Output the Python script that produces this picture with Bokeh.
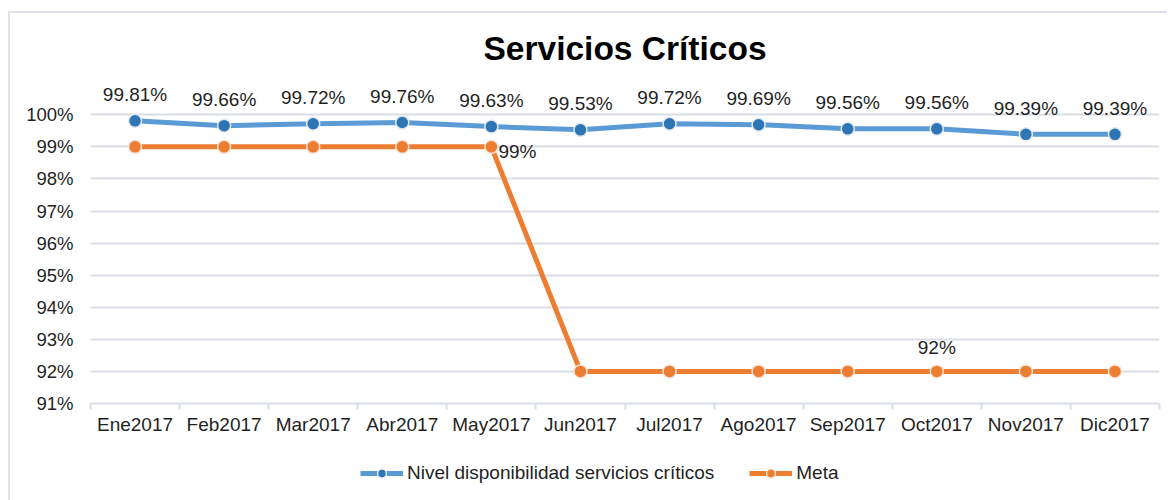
from bokeh.plotting import figure
from bokeh.layouts import column
from bokeh.models import (ColumnDataSource, Range1d, FixedTicker, LabelSet, Label,
                          Legend, LegendItem, CustomJSTickFormatter)
from bokeh.core.properties import value
from bokeh.embed import file_html
from bokeh.resources import INLINE

months = ["Ene2017", "Feb2017", "Mar2017", "Abr2017", "May2017", "Jun2017",
          "Jul2017", "Ago2017", "Sep2017", "Oct2017", "Nov2017", "Dic2017"]
nivel = [99.81, 99.66, 99.72, 99.76, 99.63, 99.53, 99.72, 99.69, 99.56, 99.56, 99.39, 99.39]
meta = [99, 99, 99, 99, 99, 92, 92, 92, 92, 92, 92, 92]
meta_labeled = [4, 9]  # months whose Meta value is labelled
y_ticks = [91, 92, 93, 94, 95, 96, 97, 98, 99, 100]
title_text = "Servicios Críticos"
series_names = ["Nivel disponibilidad servicios críticos", "Meta"]

FONT = "Liberation Sans"
TXT = "#1f1f1f"
GRID = "#d9dee6"
EDGE = "2px solid #dde2e8"
BLUE_LINE = "#5b9bd5"
BLUE_MARK = "#2e75b6"
ORANGE = "#ed7d31"

xs = [i + 0.5 for i in range(len(months))]
src = ColumnDataSource(dict(
    x=xs, nivel=nivel, meta=meta,
    nivel_lbl=[f"{v:.2f}%" for v in nivel],
))

p = figure(frame_width=1067, frame_height=383, output_backend="svg", toolbar_location=None,
           x_range=Range1d(0, len(months)), y_range=Range1d(min(y_ticks), 103.0),
           min_border_left=80, min_border_right=10, min_border_top=5, min_border_bottom=45)
p.margin = (11, 0, 0, 8)
p.styles = {"border-top": EDGE, "border-left": EDGE}
p.outline_line_color = None
p.background_fill_color = "white"
p.border_fill_color = "white"

# axes
p.xaxis.ticker = FixedTicker(ticks=xs, minor_ticks=list(range(len(months) + 1)))
p.xaxis.major_label_overrides = {x: m for x, m in zip(xs, months)}
p.xaxis.major_tick_line_color = None
p.xaxis.major_tick_out = 0
p.xaxis.major_tick_in = 0
p.xaxis.minor_tick_line_color = GRID
p.xaxis.minor_tick_line_width = 2
p.xaxis.minor_tick_out = 6
p.xaxis.minor_tick_in = 0
p.xaxis.axis_line_color = GRID
p.xaxis.axis_line_width = 2
p.xaxis.major_label_standoff = 4
p.xaxis.major_label_text_font = FONT
p.xaxis.major_label_text_font_size = "19px"
p.xaxis.major_label_text_color = TXT

p.yaxis.ticker = FixedTicker(ticks=y_ticks)
p.yaxis.formatter = CustomJSTickFormatter(code="return tick.toFixed(0) + '%';")
p.yaxis.axis_line_color = None
p.yaxis.major_tick_line_color = None
p.yaxis.minor_tick_line_color = None
p.yaxis.major_tick_out = 0
p.yaxis.major_label_standoff = 17
p.yaxis.major_label_text_font = FONT
p.yaxis.major_label_text_font_size = "18.5px"
p.yaxis.major_label_text_color = TXT

p.xgrid.grid_line_color = None
p.ygrid.ticker = FixedTicker(ticks=y_ticks[1:])
p.ygrid.grid_line_color = GRID
p.ygrid.grid_line_width = 2

# series
line_kw = [dict(line_color=BLUE_LINE, line_width=5), dict(line_color=ORANGE, line_width=5)]
mark_kw = [dict(size=13, fill_color=BLUE_MARK, line_color="#e4eaf2", line_width=1.5),
           dict(size=13, fill_color=ORANGE, line_color="#f6e2d6", line_width=1.5)]
p.line("x", "nivel", source=src, **line_kw[0])
p.scatter("x", "nivel", source=src, **mark_kw[0])
p.line("x", "meta", source=src, **line_kw[1])
p.scatter("x", "meta", source=src, **mark_kw[1])

# labels
p.add_layout(LabelSet(x="x", y="nivel", text="nivel_lbl", source=src, y_offset=26,
                      text_align="center", text_baseline="middle",
                      text_font=value(FONT), text_font_size=value("19px"), text_color=TXT))
i0, i1 = meta_labeled
p.add_layout(Label(x=xs[i0], y=meta[i0], text=f"{meta[i0]}%", x_offset=7, y_offset=-5,
                   text_align="left", text_baseline="middle",
                   text_font=FONT, text_font_size="19px", text_color=TXT))
p.add_layout(Label(x=xs[i1], y=meta[i1], text=f"{meta[i1]}%", y_offset=24,
                   text_align="center", text_baseline="middle",
                   text_font=FONT, text_font_size="19px", text_color=TXT))

# title
p.add_layout(Label(x=len(months) / 2, y=102.06, text=title_text,
                   text_align="center", text_baseline="middle",
                   text_font=FONT, text_font_size="33.5px", text_font_style="bold",
                   text_color="black"))

# legend strip (same series, same styles; series lie outside this strip's view)
pl = figure(frame_width=1067, frame_height=54, output_backend="svg", toolbar_location=None,
            x_range=Range1d(0, len(months)), y_range=Range1d(0, 1),
            x_axis_type=None, y_axis_type=None,
            min_border_left=80, min_border_right=10, min_border_top=0, min_border_bottom=0)
pl.margin = (0, 0, 0, 8)
pl.styles = {"border-left": EDGE}
pl.outline_line_color = None
pl.xgrid.grid_line_color = None
pl.ygrid.grid_line_color = None
pl.border_fill_color = "white"
ll1 = pl.line("x", "nivel", source=src, **line_kw[0])
ls1 = pl.scatter("x", "nivel", source=src, **mark_kw[0])
ll2 = pl.line("x", "meta", source=src, **line_kw[1])
ls2 = pl.scatter("x", "meta", source=src, **mark_kw[1])

legend = Legend(items=[LegendItem(label=series_names[0], renderers=[ll1, ls1]),
                       LegendItem(label=series_names[1], renderers=[ll2, ls2])],
                orientation="horizontal", location=(270, 16),
                glyph_width=43, glyph_height=22, label_standoff=4, spacing=35,
                padding=0, margin=0, border_line_color=None, background_fill_alpha=0,
                label_text_font=FONT, label_text_font_size="19px", label_text_color=TXT)
pl.add_layout(legend, "center")

layout = column(p, pl, spacing=0)
open("out.html", "w").write(file_html(layout, INLINE))
